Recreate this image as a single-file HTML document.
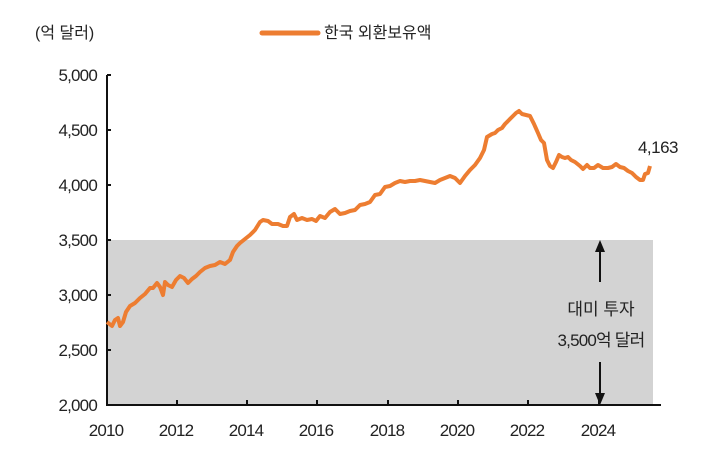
<!DOCTYPE html>
<html><head><meta charset="utf-8"><style>
body{margin:0;background:#fff;}
svg text{font-family:"Liberation Sans","Noto Sans CJK KR",sans-serif;fill:#222;}
</style></head><body>
<svg width="717" height="460" viewBox="0 0 717 460" xmlns="http://www.w3.org/2000/svg">
<rect x="107" y="240" width="546" height="165" fill="#d3d3d3"/>
<g font-size="17" text-anchor="end" letter-spacing="-0.8">
<text x="97" y="81">5,000</text>
<text x="97" y="136">4,500</text>
<text x="97" y="191">4,000</text>
<text x="97" y="246">3,500</text>
<text x="97" y="301">3,000</text>
<text x="97" y="356">2,500</text>
<text x="97" y="411">2,000</text>
</g>
<g font-size="17" text-anchor="middle" letter-spacing="-0.8">
<text x="106" y="436">2010</text>
<text x="176" y="436">2012</text>
<text x="246" y="436">2014</text>
<text x="316" y="436">2016</text>
<text x="387" y="436">2018</text>
<text x="457" y="436">2020</text>
<text x="527" y="436">2022</text>
<text x="598" y="436">2024</text>
</g>
<g stroke="#111" stroke-width="2" fill="none">
<line x1="107" y1="75" x2="107" y2="406"/>
<line x1="106" y1="405" x2="661" y2="405"/>
<line x1="107" y1="75" x2="111" y2="75"/>
<line x1="107" y1="130" x2="111" y2="130"/>
<line x1="107" y1="185" x2="111" y2="185"/>
<line x1="107" y1="240" x2="111" y2="240"/>
<line x1="107" y1="295" x2="111" y2="295"/>
<line x1="107" y1="350" x2="111" y2="350"/>
<line x1="177" y1="405" x2="177" y2="400"/>
<line x1="247" y1="405" x2="247" y2="400"/>
<line x1="317" y1="405" x2="317" y2="400"/>
<line x1="388" y1="405" x2="388" y2="400"/>
<line x1="458" y1="405" x2="458" y2="400"/>
<line x1="528" y1="405" x2="528" y2="400"/>
<line x1="599" y1="405" x2="599" y2="400"/>
</g>
<polyline fill="none" stroke="#ED7D31" stroke-width="4" stroke-linejoin="round" points="107,322 112,326 115,320 118,318 120,326 123,322 126,312 130,306 135,303 140,298 145,294 150,288 153,288 157,283 160,287 163,295 165,282 168,285 172,287 176,280 180,276 184,278 188,283 192,279 196,276 200,272 205,268 210,266 215,265 220,262 225,264 230,260 233,252 237,246 240,243 245,239 250,235 255,230 260,222 263,220 268,221 272,224 278,224 283,226 287,226 290,217 294,214 297,220 302,218 307,220 312,219 316,221 320,216 325,218 330,212 335,209 340,214 345,213 350,211 355,210 360,205 365,204 370,202 375,195 380,194 385,187 390,186 395,183 400,181 405,182 410,181 415,181 420,180 425,181 430,182 435,183 440,180 445,178 450,176 455,178 460,183 465,176 470,170 475,165 480,158 484,150 487,137 492,134 495,133 498,130 502,128 505,124 509,120 513,116 516,113 519,111 522,114 526,115 530,116 534,124 538,133 541,140 544,143 547,160 550,166 553,168 556,162 559,155 562,157 565,158 568,157 571,160 575,162 580,166 583,169 587,165 590,168 594,168 598,165 603,168 608,168 612,167 616,164 620,167 624,168 628,171 632,173 636,177 640,180 643,180 645,174 648,173 650,166"/>
<text x="678" y="153" font-size="17" text-anchor="end" letter-spacing="-0.5">4,163</text>
<g stroke="#111" stroke-width="2">
<line x1="600" y1="250" x2="600" y2="282"/>
<line x1="600" y1="362" x2="600" y2="395"/>
</g>
<polygon points="600,240 595,252 605,252" fill="#111"/>
<polygon points="600,405 595,393 605,393" fill="#111"/>
<text x="601" y="315" font-size="17" text-anchor="middle">대미 투자</text>
<text x="601" y="346" font-size="17" text-anchor="middle" letter-spacing="-0.8">3,500억 달러</text>
<text x="35" y="38" font-size="16">(억 달러)</text>
<line x1="262" y1="33" x2="318" y2="33" stroke="#ED7D31" stroke-width="5" stroke-linecap="round"/>
<text x="324" y="38" font-size="16">한국 외환보유액</text>
</svg>
</body></html>
